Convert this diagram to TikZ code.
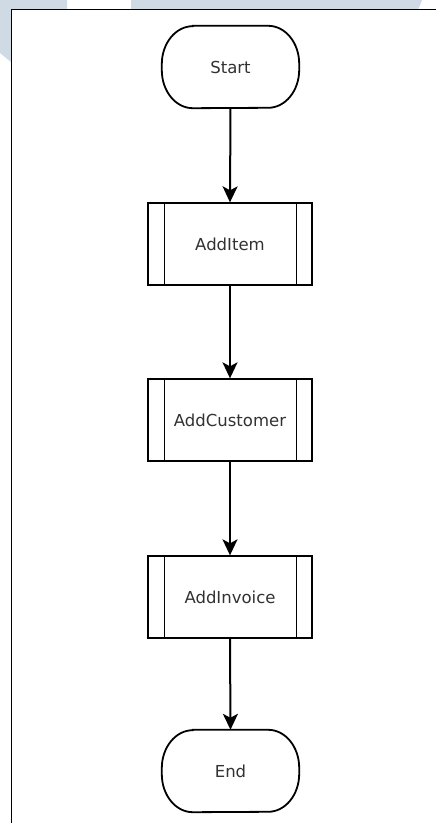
\documentclass[tikz,border=0pt]{standalone}
\usepackage{fontspec}
\setmainfont{DejaVu Sans}
\usetikzlibrary{arrows.meta,calc}
\definecolor{wash}{RGB}{208,218,228}
\definecolor{inkgray}{RGB}{50,50,50}
\tikzset{
  terminal/.style={minimum width=137pt,minimum height=82pt,inner sep=0pt,
    font=\fontsize{16.5pt}{19pt}\selectfont,text=inkgray},
  subproc/.style={draw,line width=1.3pt,minimum width=164pt,minimum height=82pt,
    inner sep=0pt,font=\fontsize{16.5pt}{19pt}\selectfont,text=inkgray},
  flow/.style={line width=2pt,-{Stealth[length=16pt,width=15pt,inset=4pt]}},
}
% stadium outline with rounded elliptical corners around a named node
\newcommand{\termoutline}[1]{%
  \draw[line width=1.8pt]
    ($(#1.north west)+(31,0)$) -- ($(#1.north east)+(-31,0)$)
    arc[start angle=90,end angle=0,x radius=31,y radius=38]
    -- ++(0,-6)
    arc[start angle=0,end angle=-90,x radius=31,y radius=38]
    -- ($(#1.south west)+(31,0)$)
    arc[start angle=270,end angle=180,x radius=31,y radius=38]
    -- ++(0,6)
    arc[start angle=180,end angle=90,x radius=31,y radius=38] -- cycle;}
% side bars of a predefined-process box
\newcommand{\subbars}[1]{%
  \draw[line width=1.3pt] ($(#1.north west)+(17,0)$) -- ($(#1.south west)+(17,0)$);
  \draw[line width=1.3pt] ($(#1.north east)+(-16,0)$) -- ($(#1.south east)+(-16,0)$);}
\begin{document}
\begin{tikzpicture}[x=1pt,y=1pt]
  \useasboundingbox (0,0) rectangle (436,823);
  % pale backdrop shapes
  \fill[wash] (0,823) -- (67,823) -- (67,813) -- (11,813) -- (11,761) -- (0,770) -- cycle;
  \fill[wash] (131,823) -- (422,823) -- (418,813) -- (131,813) -- cycle;
  % page frame
  \fill[white] (11.5,0) rectangle (436,813.5);
  \draw[line width=1.5pt] (11.5,-2) -- (11.5,813.5) -- (438,813.5);
  % nodes
  \node[terminal] (start) at (230.5,756) {Start};
  \node[subproc] (item) at (230,579) {AddItem};
  \node[subproc] (cust) at (230,403) {AddCustomer};
  \node[subproc] (inv) at (230,226) {AddInvoice};
  \node[terminal] (stop) at (230.5,52) {End};
  \termoutline{start}
  \termoutline{stop}
  \subbars{item}
  \subbars{cust}
  \subbars{inv}
  % connectors
  \draw[flow] (start.south) -- (item.north);
  \draw[flow] (item.south) -- (cust.north);
  \draw[flow] (cust.south) -- (inv.north);
  \draw[flow] (inv.south) -- (stop.north);
\end{tikzpicture}
\end{document}
